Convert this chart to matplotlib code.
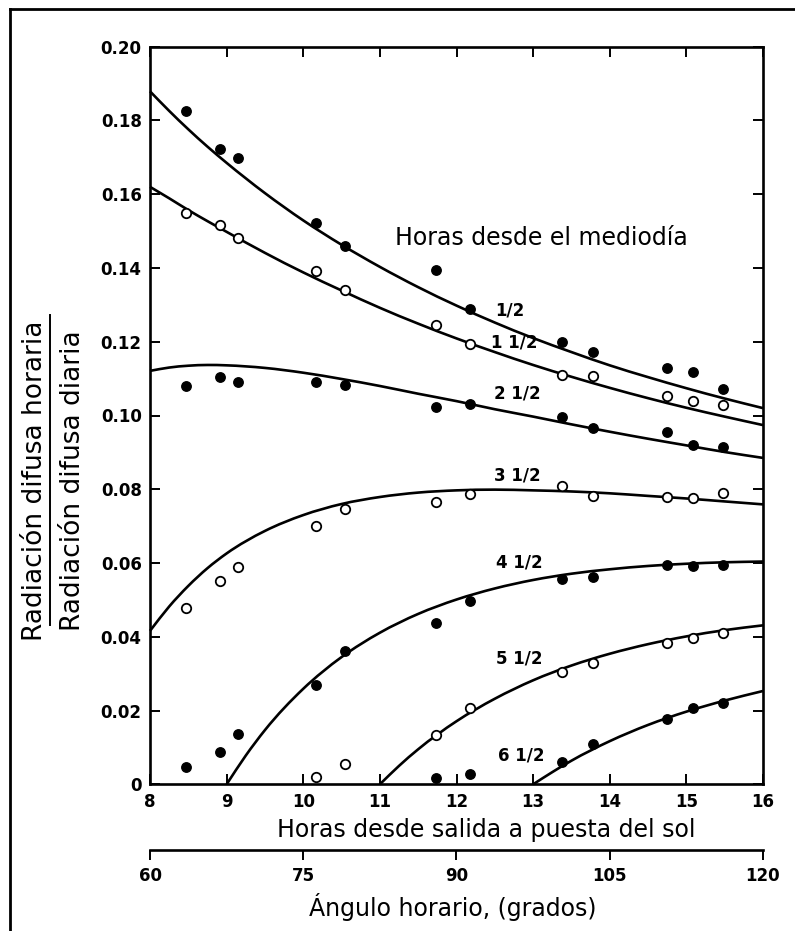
import numpy as np
import matplotlib
matplotlib.use("Agg")
import matplotlib.pyplot as plt
from matplotlib.lines import Line2D
from matplotlib.path import Path
from matplotlib.patches import PathPatch

plt.rcParams['font.family'] = ['DejaVu Sans']

# ---------------- data ----------------
# observed points: hours from sunrise to sunset (day length)
obs_hours = [8.47, 8.91, 9.15, 10.17, 10.54, 11.73, 12.17, 13.38, 13.78, 14.75, 15.08, 15.48]
nan = np.nan
obs_05 = [0.1826, 0.1723, 0.1697, 0.1523, 0.1460, 0.1395, 0.1288, 0.1198, 0.1173, 0.1128, 0.1119, 0.1072]
obs_15 = [0.1550, 0.1517, 0.1480, 0.1393, 0.1340, 0.1245, 0.1194, 0.1110, 0.1107, 0.1054, 0.1039, 0.1028]
obs_25 = [0.1080, 0.1104, 0.1092, 0.1092, 0.1083, 0.1024, 0.1031, 0.0997, 0.0967, 0.0956, 0.0920, 0.0914]
obs_35 = [0.0477, 0.0551, 0.0588, 0.0701, 0.0746, 0.0766, 0.0787, 0.0808, 0.0782, 0.0778, 0.0777, 0.0789]
obs_45 = [0.0046, 0.0087, 0.0136, 0.0269, 0.0362, 0.0438, 0.0498, 0.0557, 0.0563, 0.0595, 0.0592, 0.0595]
obs_55 = [nan, nan, nan, 0.0019, 0.0055, 0.0135, 0.0206, 0.0305, 0.0328, 0.0384, 0.0398, 0.0409]
obs_65 = [nan, nan, nan, nan, nan, 0.0017, 0.0027, 0.0060, 0.0109, 0.0177, 0.0206, 0.0221]

# fitted curves
curve_hours_a = [8.0, 8.25, 8.5, 8.75, 9.0, 9.5, 10.0, 10.5, 11.0, 11.5, 12.0, 12.5, 13.0, 13.5, 14.0, 14.5, 15.0, 15.5, 16.0]
curve_05 = [0.1879, 0.1826, 0.1776, 0.1729, 0.1685, 0.1603, 0.1529, 0.1463, 0.1403, 0.1348, 0.1298, 0.1252, 0.1210, 0.1172, 0.1136, 0.1104, 0.1074, 0.1046, 0.1020]
curve_15 = [0.1620, 0.1589, 0.1557, 0.1527, 0.1498, 0.1441, 0.1388, 0.1339, 0.1292, 0.1249, 0.1209, 0.1172, 0.1137, 0.1105, 0.1075, 0.1047, 0.1021, 0.0997, 0.0974]
curve_25 = [0.1121, 0.1130, 0.1135, 0.1137, 0.1136, 0.1129, 0.1116, 0.1099, 0.1080, 0.1059, 0.1039, 0.1017, 0.0997, 0.0976, 0.0956, 0.0937, 0.0919, 0.0901, 0.0885]
curve_35 = [0.0416, 0.0482, 0.0538, 0.0586, 0.0626, 0.0687, 0.0730, 0.0760, 0.0779, 0.0791, 0.0797, 0.0799, 0.0797, 0.0794, 0.0789, 0.0782, 0.0775, 0.0767, 0.0759]
curve_hours_45 = [9.0, 9.25, 9.5, 10.0, 10.5, 11.0, 11.5, 12.0, 12.5, 13.0, 13.5, 14.0, 14.5, 15.0, 15.5, 16.0]
curve_45 = [0.0, 0.0078, 0.0147, 0.0259, 0.0345, 0.0411, 0.0462, 0.0501, 0.0531, 0.0554, 0.0571, 0.0583, 0.0592, 0.0598, 0.0602, 0.0604]
curve_hours_55 = [11.0, 11.25, 11.5, 12.0, 12.5, 13.0, 13.5, 14.0, 14.5, 15.0, 15.5, 16.0]
curve_55 = [0.0, 0.0050, 0.0095, 0.0171, 0.0232, 0.0282, 0.0322, 0.0354, 0.0380, 0.0401, 0.0418, 0.0431]
curve_hours_65 = [13.0, 13.25, 13.5, 14.0, 14.5, 15.0, 15.5, 16.0]
curve_65 = [0.0, 0.0033, 0.0064, 0.0117, 0.0161, 0.0197, 0.0227, 0.0253]

curve_labels = ['1/2', '1 1/2', '2 1/2', '3 1/2', '4 1/2', '5 1/2', '6 1/2']

x_ticks = [8, 9, 10, 11, 12, 13, 14, 15, 16]
x_tick_labels = ['8', '9', '10', '11', '12', '13', '14', '15', '16']
y_ticks = [0.0, 0.02, 0.04, 0.06, 0.08, 0.10, 0.12, 0.14, 0.16, 0.18, 0.20]
y_tick_labels = ['0', '0.02', '0.04', '0.06', '0.08', '0.10', '0.12', '0.14', '0.16', '0.18', '0.20']
angle_ticks = [60, 75, 90, 105, 120]
angle_tick_labels = ['60', '75', '90', '105', '120']


def smooth_path(xs, ys):
    """Cubic Bezier path through the given points (Hermite tangents)."""
    x = np.asarray(xs, float)
    y = np.asarray(ys, float)
    m = np.gradient(y, x)
    verts = [(x[0], y[0])]
    codes = [Path.MOVETO]
    for i in range(len(x) - 1):
        h = x[i + 1] - x[i]
        verts += [(x[i] + h / 3, y[i] + m[i] * h / 3),
                  (x[i + 1] - h / 3, y[i + 1] - m[i + 1] * h / 3),
                  (x[i + 1], y[i + 1])]
        codes += [Path.CURVE4] * 3
    return Path(verts, codes)


# ---------------- figure ----------------
W, H = 795, 931
fig = plt.figure(figsize=(W / 100, H / 100), dpi=100)
fig.patch.set_facecolor('white')

L, R, T, B = 150, 763, 46.7, 784.3
ax = fig.add_axes([L / W, 1 - B / H, (R - L) / W, (B - T) / H])

lw = 1.9
for xs, ys in [(curve_hours_a, curve_05), (curve_hours_a, curve_15), (curve_hours_a, curve_25),
               (curve_hours_a, curve_35), (curve_hours_45, curve_45), (curve_hours_55, curve_55),
               (curve_hours_65, curve_65)]:
    ax.add_patch(PathPatch(smooth_path(xs, ys), fill=False, edgecolor='black', lw=lw,
                           capstyle='butt', zorder=2, clip_on=False))

ms = 6.8
for ys in [obs_05, obs_25, obs_45, obs_65]:
    ax.plot(obs_hours, ys, 'o', color='black', ms=ms, mec='black', zorder=3, clip_on=False)
for ys in [obs_15, obs_35, obs_55]:
    ax.plot(obs_hours, ys, 'o', mfc='white', mec='black', ms=ms, mew=1.3, zorder=3, clip_on=False)

ax.set_xlim(8, 16)
ax.set_ylim(0, 0.20)
ax.set_xticks(x_ticks)
ax.set_xticklabels(x_tick_labels)
ax.set_yticks(y_ticks)
ax.set_yticklabels(y_tick_labels)
ax.tick_params(direction='in', length=7, width=1.4, top=True, right=True,
               labelsize=12, pad=6)
for lab in ax.get_xticklabels() + ax.get_yticklabels():
    lab.set_fontweight('bold')
for sp in ax.spines.values():
    sp.set_linewidth(1.9)

# curve labels
lab_pos = [(12.70, 0.1284), (12.75, 0.1199), (12.80, 0.1059), (12.80, 0.0836),
           (12.82, 0.0602), (12.82, 0.0341), (12.85, 0.0079)]
for txt, (lx, ly) in zip(curve_labels, lab_pos):
    ax.text(lx, ly, txt, ha='center', va='center', fontsize=12, fontweight='bold')

ax.text(13.11, 0.1462, 'Horas desde el mediodía', ha='center', va='baseline', fontsize=17)

# secondary axis (hour angle in degrees)
sec = ax.secondary_xaxis(-(850 - B) / (B - T),
                         functions=(lambda h: np.asarray(h) * 7.5, lambda a: np.asarray(a) / 7.5))
sec.set_xticks(angle_ticks)
sec.set_xticklabels(angle_tick_labels)
sec.tick_params(direction='out', length=7, width=1.4, labelsize=12, pad=5)
for lab in sec.get_xticklabels():
    lab.set_fontweight('bold')
sec.spines['bottom'].set_linewidth(1.9)

# axis labels
fig.text(486.7 / W, 1 - 836.7 / H, 'Horas desde salida a puesta del sol',
         ha='center', va='baseline', fontsize=17)
fig.text(452.8 / W, 1 - 916 / H, 'Ángulo horario, (grados)',
         ha='center', va='baseline', fontsize=17)

# y label as a fraction
fig.text(41.7 / W, 1 - 481 / H, 'Radiación difusa horaria', rotation=90,
         rotation_mode='anchor', ha='center', va='baseline', fontsize=19)
fig.text(80 / W, 1 - 481 / H, 'Radiación difusa diaria', rotation=90,
         rotation_mode='anchor', ha='center', va='baseline', fontsize=19)
fig.add_artist(Line2D([50 / W, 50 / W], [1 - 315 / H, 1 - 625 / H], color='black', lw=1.4))

# outer frame (top and left)
fig.add_artist(Line2D([9.7 / W, 9.7 / W], [0, 1 - 9.2 / H], color='black', lw=2.0))
fig.add_artist(Line2D([9.7 / W, 1], [1 - 9.2 / H, 1 - 9.2 / H], color='black', lw=2.0))

fig.savefig('out.png', dpi=100)
